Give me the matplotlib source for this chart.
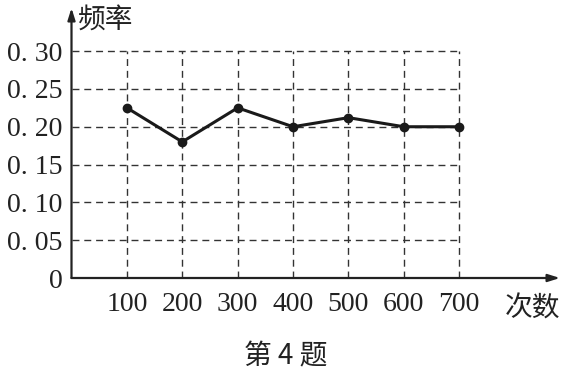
import matplotlib
matplotlib.use("Agg")
import matplotlib.pyplot as plt

# Data
trials = [100, 200, 300, 400, 500, 600, 700]
freq = [0.225, 0.18, 0.225, 0.20, 0.212, 0.20, 0.20]
y_ticks = [0, 0.05, 0.10, 0.15, 0.20, 0.25, 0.30]
y_tick_labels = ["0", "0. 05", "0. 10", "0. 15", "0. 20", "0. 25", "0. 30"]
x_tick_labels = ["100", "200", "300", "400", "500", "600", "700"]
y_label = "频率"
x_label = "次数"
caption = "第 4 题"

W, H = 568, 376
fig = plt.figure(figsize=(W / 100, H / 100), dpi=100)
left_px, right_px, bottom_px, top_px = 71.5, 560, 278, 8
ax = fig.add_axes([left_px / W, (H - bottom_px) / H,
                   (right_px - left_px) / W, (bottom_px - top_px) / H])
xmax = 882
ymax = 0.357
ax.set_xlim(0, xmax)
ax.set_ylim(0, ymax)
for s in ax.spines.values():
    s.set_visible(False)

serif = ["Liberation Serif", "DejaVu Serif"]
cjk = ["Noto Sans CJK SC", "DejaVu Sans"]

# grid
gkw = dict(color="#333333", lw=1.0, ls=(0, (5, 3.5)), zorder=1)
for yv in y_ticks[1:]:
    ax.plot([0, trials[-1]], [yv, yv], **gkw)
for xv in trials:
    ax.plot([xv, xv], [0, y_ticks[-1]], **gkw)

# axes with arrows
akw = dict(arrowstyle="-|>,head_length=0.7,head_width=0.22", color="#222222", lw=1.6,
           shrinkA=0, shrinkB=0)
ax.annotate("", xy=(xmax, 0), xytext=(0, 0), arrowprops=akw, annotation_clip=False)
ax.annotate("", xy=(0, ymax), xytext=(0, 0), arrowprops=akw, annotation_clip=False)

# data line
ax.plot(trials, freq, color="#1a1a1a", lw=2.2, marker="o", ms=6, zorder=3, clip_on=False)

# ticks
ax.set_yticks(y_ticks)
ax.set_yticklabels(y_tick_labels, fontfamily=serif, fontsize=20, color="#222222")
ax.set_xticks(trials)
ax.set_xticklabels(x_tick_labels, fontfamily=serif, fontsize=20, color="#222222")
ax.tick_params(axis="y", length=0, pad=6.5)
ax.tick_params(axis="x", length=0, pad=10)

ax.text(11, 0.341, y_label, fontfamily=cjk, fontsize=20, va="center", ha="left",
        color="#222222")
ax.text(xmax, -0.040, x_label, fontfamily=cjk, fontsize=20, va="center", ha="right",
        color="#222222")
fig.text(286 / W, 1 - 356 / H, caption, fontfamily=cjk, fontsize=20, ha="center",
         va="center", color="#222222")

fig.savefig("out.png", dpi=100, facecolor="white")
